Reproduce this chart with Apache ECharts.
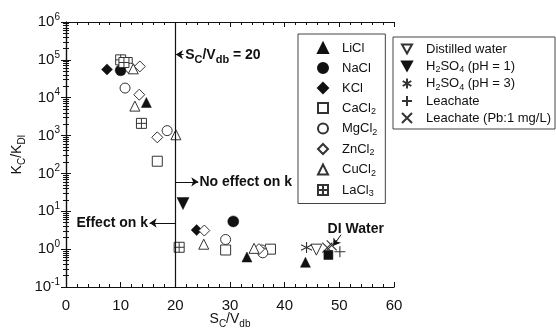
<!DOCTYPE html>
<html><head><meta charset="utf-8">
<script src="https://cdn.jsdelivr.net/npm/echarts@6/dist/echarts.min.js"></script>
<style>html,body{margin:0;padding:0;background:#fff}#c{width:556px;height:331px}</style>
</head><body><div id="c"></div>
<script>
// ---- data ----
const xTicks = [0, 10, 20, 30, 40, 50, 60];
const yTickExponents = [-1, 0, 1, 2, 3, 4, 5, 6];

const LiCl   = [[14.7, 7.5e3], [33.1, 0.62], [43.8, 0.45]];
const NaCl   = [[10.0, 5.3e4], [30.6, 5.4]];
const KCl    = [[7.5, 5.6e4], [23.9, 3.2]];
const CaCl2  = [[11.2, 8.5e4], [16.7, 2.1e2], [29.2, 0.95], [37.4, 1.0]];
const MgCl2  = [[11.8, 6.0e4], [10.8, 1.8e4], [18.5, 1.35e3], [29.2, 1.8], [35.8, 0.95], [36.0, 0.8]];
const ZnCl2  = [[13.5, 6.7e4], [13.4, 1.2e4], [16.7, 9.0e2], [25.3, 3.1], [35.3, 1.0]];
const CuCl2  = [[12.3, 5.8e4], [12.6, 6.0e3], [20.1, 1.05e3], [25.2, 1.35], [34.4, 1.05]];
const LaCl3  = [[10.0, 1.0e5], [10.6, 8.5e4], [13.8, 2.1e3], [20.7, 1.12]];
const distilledWater = [[45.8, 0.97]];
const h2so4pH1 = [[21.4, 16]];
const h2so4pH3 = [[44.0, 1.1]];
const leachate = [[50.1, 0.85]];
const leachatePb = [[47.8, 1.1], [48.6, 1.25]];
const diWater = [[48.0, 0.7]];

const legend1Names = ['LiCl', 'NaCl', 'KCl', 'CaCl2', 'MgCl2', 'ZnCl2', 'CuCl2', 'LaCl3'];
const legend2Names = ['Distilled water', 'H2SO4 (pH = 1)', 'H2SO4 (pH = 3)', 'Leachate', 'Leachate (Pb:1 mg/L)'];
const legendRich = {
  'LiCl': '{n|LiCl}', 'NaCl': '{n|NaCl}', 'KCl': '{n|KCl}',
  'CaCl2': '{n|CaCl}{s|2}', 'MgCl2': '{n|MgCl}{s|2}', 'ZnCl2': '{n|ZnCl}{s|2}',
  'CuCl2': '{n|CuCl}{s|2}', 'LaCl3': '{n|LaCl}{s|3}',
  'Distilled water': '{n|Distilled water}',
  'H2SO4 (pH = 1)': '{n|H}{s|2}{n|SO}{s|4}{n| (pH = 1)}',
  'H2SO4 (pH = 3)': '{n|H}{s|2}{n|SO}{s|4}{n| (pH = 3)}',
  'Leachate': '{n|Leachate}',
  'Leachate (Pb:1 mg/L)': '{n|Leachate (Pb:1 mg/L)}'
};

// ---- styles ----
const INK = '#111', OPEN = '#333';
const FF = 'Liberation Sans';
const downTri = 'path://M0,0L10,0L5,9Z';
const sqPlus = 'path://M0,0L10,0L10,10L0,10ZM5,0L5,10M0,5L10,5';
const aster = 'path://M5,0L5,10M0.7,2.5L9.3,7.5M0.7,7.5L9.3,2.5';
const plus = 'path://M5,0L5,10M0,5L10,5';
const cross = 'path://M0,0L10,10M0,10L10,0';

function filled(name, data, symbol, size) {
  return { name, type: 'scatter', data, symbol, symbolSize: size,
    itemStyle: { color: INK, borderColor: INK, borderWidth: 0.5, opacity: 1 } };
}
function open(name, data, symbol, size) {
  return { name, type: 'scatter', data, symbol, symbolSize: size,
    itemStyle: { color: '#fff', borderColor: OPEN, borderWidth: 1, opacity: 1 } };
}
function stroke(name, data, symbol, size) {
  return { name, type: 'scatter', data, symbol, symbolSize: size,
    itemStyle: { color: 'rgba(0,0,0,0)', borderColor: OPEN, borderWidth: 1.1, opacity: 1 } };
}

const rich = {
  n: { fontSize: 14, lineHeight: 20, verticalAlign: 'middle', color: INK, fontFamily: FF },
  s: { fontSize: 10, lineHeight: 10, verticalAlign: 'bottom', color: INK, fontFamily: FF },
  b: { fontSize: 14, lineHeight: 20, verticalAlign: 'middle', color: INK, fontWeight: 'bold', fontFamily: FF },
  bs: { fontSize: 11, lineHeight: 10, verticalAlign: 'bottom', color: INK, fontWeight: 'bold', fontFamily: FF },
  t: { fontSize: 15, lineHeight: 20, verticalAlign: 'middle', color: INK, fontFamily: FF },
  p: { fontSize: 10, lineHeight: 10, verticalAlign: 'top', color: INK, fontFamily: FF }
};
const legRich = {
  n: { fontSize: 13, lineHeight: 16, height: 16, verticalAlign: 'middle', color: INK, fontFamily: FF },
  s: { fontSize: 9, lineHeight: 8, height: 8, verticalAlign: 'bottom', color: INK, fontFamily: FF }
};

const annotSeries = filled('DI Water', diWater, 'rect', 9);
annotSeries.markLine = {
  silent: true, symbol: ['none', 'arrow'], symbolSize: 7,
  lineStyle: { color: INK, width: 1, type: 'solid' },
  label: { show: false },
  data: [
    [{ coord: [21.5, 1.38e5], lineStyle: { type: [3, 2] } }, { coord: [20.1, 1.38e5] }],
    [{ coord: [20, 60] }, { coord: [24.2, 60] }],
    [{ coord: [20, 4.9] }, { coord: [15.3, 4.9] }],
    [{ coord: [50.3, 2.4] }, { coord: [48.9, 1.22] }]
  ]
};
annotSeries.markPoint = {
  silent: true, symbol: 'circle', symbolSize: 0,
  itemStyle: { color: 'rgba(0,0,0,0)' },
  label: { show: true, rich },
  data: [
    { coord: [21.8, 1.3e5], label: { position: 'right', distance: 0, formatter: '{b|S}{bs|C}{b|/V}{bs|db}{b| = 20}' } },
    { coord: [24.4, 60], label: { position: 'right', distance: 0, formatter: '{b|No effect on k}' } },
    { coord: [15.0, 4.9], label: { position: 'left', distance: 0, formatter: '{b|Effect on k}' } },
    { coord: [53.0, 3.4], label: { position: 'inside', distance: 0, formatter: '{b|DI Water}' } }
  ]
};

const liclSeries = filled('LiCl', LiCl, 'triangle', 10);
liclSeries.markLine = {
  silent: true, symbol: 'none', label: { show: false },
  lineStyle: { color: INK, width: 1.2, type: 'solid' },
  data: [{ xAxis: 20 }]
};

const series = [
  liclSeries,
  filled('NaCl', NaCl, 'circle', 11),
  filled('KCl', KCl, 'diamond', 11),
  open('CaCl2', CaCl2, 'rect', 10),
  open('MgCl2', MgCl2, 'circle', 10),
  open('ZnCl2', ZnCl2, 'diamond', 11),
  open('CuCl2', CuCl2, 'triangle', 10),
  open('LaCl3', LaCl3, sqPlus, 10),
  open('Distilled water', distilledWater, downTri, 11),
  filled('H2SO4 (pH = 1)', h2so4pH1, downTri, 12),
  stroke('H2SO4 (pH = 3)', h2so4pH3, aster, 11),
  stroke('Leachate', leachate, plus, 11),
  stroke('Leachate (Pb:1 mg/L)', leachatePb, cross, 10),
  annotSeries
];

const axisCommon = {
  axisLine: { show: true, lineStyle: { color: INK, width: 1.2 } },
  axisTick: { show: true, inside: true, length: 5, lineStyle: { color: INK } },
  minorTick: { show: true, splitNumber: 5, length: 3, lineStyle: { color: INK } },
  splitLine: { show: false }, minorSplitLine: { show: false }
};

const option = {
  backgroundColor: '#fff',
  animation: false,
  grid: { left: 66, right: 162, top: 22, bottom: 44, containLabel: false, outerBoundsMode: 'none' },
  xAxis: [
    Object.assign({ type: 'value', min: xTicks[0], max: xTicks[xTicks.length - 1], interval: 10,
      position: 'bottom',
      name: '{n|S}{s|C}{n|/V}{s|db}', nameLocation: 'middle', nameGap: 22, nameMoveOverlap: false,
      nameTextStyle: { rich },
      axisLabel: { margin: 9, formatter: v => '{t|' + v + '}', rich } }, axisCommon),
    Object.assign({ type: 'value', min: 0, max: 60, interval: 10, position: 'top',
      axisLabel: { show: false } }, axisCommon)
  ],
  yAxis: [
    Object.assign({ type: 'log', logBase: 10, min: Math.pow(10, yTickExponents[0]),
      max: Math.pow(10, yTickExponents[yTickExponents.length - 1]), interval: 1,
      position: 'left',
      name: '{n|K}{s|C}{n|/K}{s|DI}', nameLocation: 'middle', nameGap: 39, nameRotate: 90, nameMoveOverlap: false,
      nameTextStyle: { rich },
      axisLabel: { margin: 6, rich,
        formatter: v => { const e = yTickExponents.find(k => Math.abs(Math.pow(10, k) - v) < 1e-9 * Math.max(1, v)); return '{t|10}{p|' + (e === undefined ? Math.round(Math.log10(v)) : e) + '}'; } } },
      axisCommon, { minorTick: { show: true, splitNumber: 9, length: 3, lineStyle: { color: INK } } }),
    Object.assign({ type: 'log', logBase: 10, min: 0.1, max: 1e6, interval: 1, position: 'right',
      axisLabel: { show: false } }, axisCommon,
      { minorTick: { show: true, splitNumber: 9, length: 3, lineStyle: { color: INK } } })
  ],
  legend: [
    { data: legend1Names, orient: 'vertical', left: 298, top: 34,
      itemWidth: 10, itemHeight: 10, itemGap: 4, padding: [6, 8, 5, 19],
      borderColor: '#444', borderWidth: 1, selectedMode: false,
      formatter: n => legendRich[n], textStyle: { rich: legRich, lineHeight: 16, height: 16, padding: [0, 0, 0, 9] } },
    { data: legend2Names, orient: 'vertical', left: 393, top: 37,
      itemWidth: 10, itemHeight: 10, itemGap: 1, padding: [4, 4, 3, 8],
      borderColor: '#444', borderWidth: 1, selectedMode: false, backgroundColor: '#fff',
      formatter: n => legendRich[n], textStyle: { rich: legRich, lineHeight: 16, height: 16, padding: [0, 0, 0, 9] } }
  ],
  series
};

const chart = echarts.init(document.getElementById('c'), null, { renderer: 'canvas' });
chart.setOption(option);
</script>
</body></html>
